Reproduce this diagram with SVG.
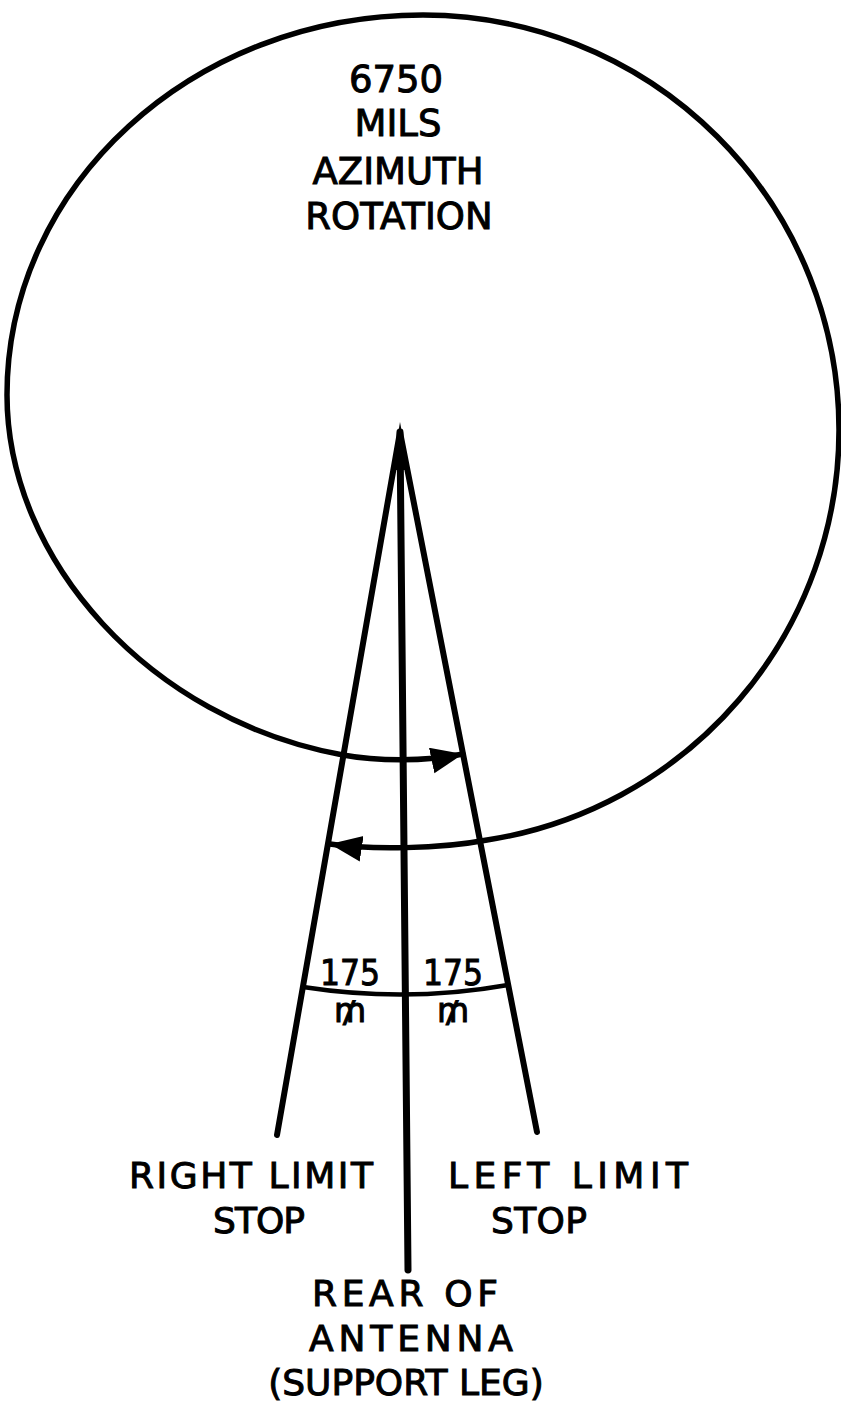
<svg xmlns="http://www.w3.org/2000/svg" width="841" height="1406" viewBox="0 0 841 1406">
<defs>
<style>
.ln{fill:none;stroke:#000;stroke-linecap:round;stroke-linejoin:round}
.t{font-family:"DejaVu Sans","Liberation Sans",sans-serif;fill:#000;text-anchor:middle;stroke:#000;stroke-width:1}
.t1{font-size:37px}
.t2{font-size:36px}
.t3{font-size:36px}
.mil{font-family:"DejaVu Sans",sans-serif;font-size:33px;fill:#000;stroke:#000;stroke-width:1;text-anchor:middle}
</style>
<marker id="ah" markerUnits="userSpaceOnUse" markerWidth="34" markerHeight="28" refX="32" refY="13" orient="auto-start-reverse" viewBox="0 0 34 28">
<path d="M0,0 L32,13 L0,26 Z" fill="#000"/>
</marker>
</defs>
<rect width="841" height="1406" fill="#fff"/>
<g id="rotation-spiral">
<path class="ln" stroke-width="5.5" d="M330,844 C370,850 440,849 487,840 A416,415 0 0 0 839,430 A416,415 0 0 0 423,15 C193,15 7,185 7,395 C7,560 150,720 343,755 C375,761 425,762 463,754" marker-start="url(#ah)" marker-end="url(#ah)"/>
</g>
<g id="limit-lines">
<path class="ln" stroke-width="6" d="M400,432 L277,1135"/>
<path class="ln" stroke-width="6" d="M400,432 L537,1132"/>
<path d="M400,422 L392,470 L409,470 Z" fill="#000"/>
</g>
<g id="rear-line">
<path class="ln" stroke-width="7" d="M400,432 L408,1270"/>
</g>
<g id="limit-angle">
<path class="ln" stroke-width="4.5" d="M303,987 Q407,1003 508,985"/>
<text class="t t3" x="350" y="985" textLength="60" lengthAdjust="spacingAndGlyphs">175</text>
<text class="t t3" x="453" y="985" textLength="60" lengthAdjust="spacingAndGlyphs">175</text>
<text class="mil" x="350" y="1022">₥</text>
<text class="mil" x="453" y="1022">₥</text>
</g>
<g id="title">
<text class="t t1" x="396" y="92">6750</text>
<text class="t t1" x="398" y="136">MILS</text>
<text class="t t1" x="398" y="184">AZIMUTH</text>
<text class="t t1" x="399" y="229">ROTATION</text>
</g>
<g id="right-limit-label">
<text class="t t2" x="251" y="1188" textLength="244" lengthAdjust="spacing">RIGHT LIMIT</text>
<text class="t t2" x="259" y="1233" textLength="92" lengthAdjust="spacing">STOP</text>
</g>
<g id="left-limit-label">
<text class="t t2" x="568" y="1188" textLength="240" lengthAdjust="spacing">LEFT LIMIT</text>
<text class="t t2" x="539" y="1233" textLength="96" lengthAdjust="spacing">STOP</text>
</g>
<g id="rear-label">
<text class="t t2" x="405" y="1306" textLength="186" lengthAdjust="spacing">REAR OF</text>
<text class="t t2" x="411" y="1351" textLength="204" lengthAdjust="spacing">ANTENNA</text>
<text class="t t2" x="406" y="1395">(SUPPORT LEG)</text>
</g>
</svg>
